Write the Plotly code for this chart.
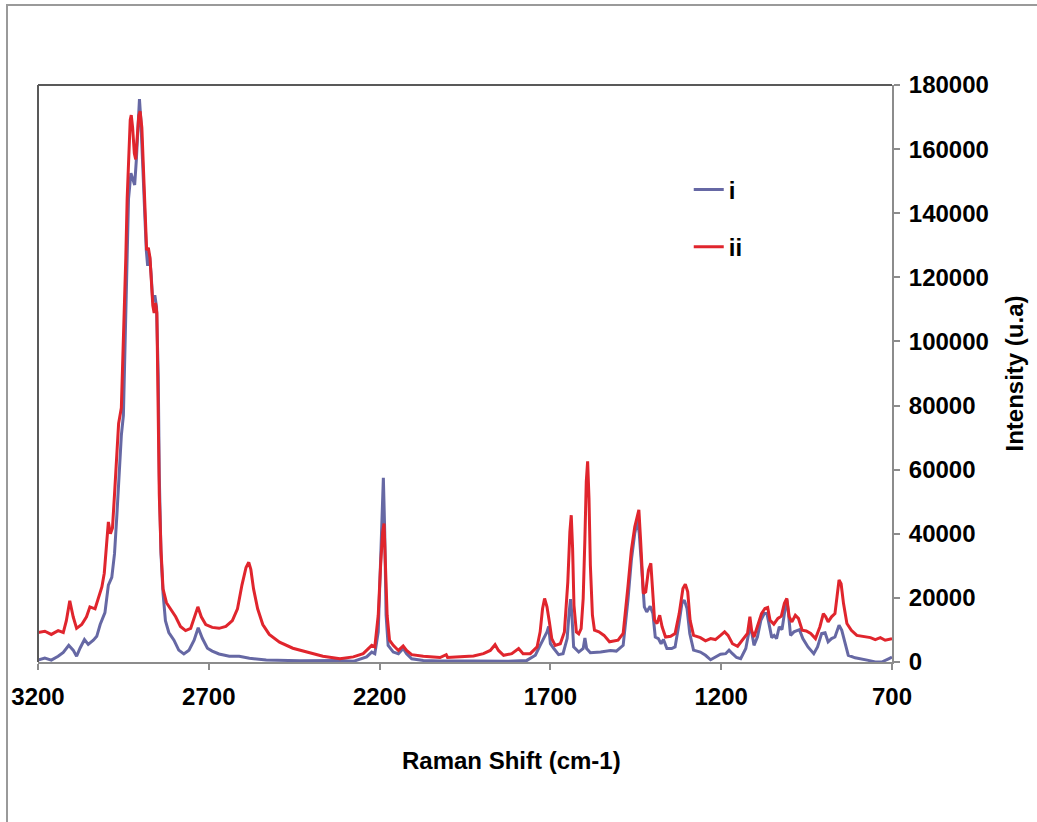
import plotly.graph_objects as go

# Raman spectrum (i)
i_shift = [3200, 3180, 3161, 3141, 3126, 3110, 3097, 3087, 3077, 3064, 3053, 3038, 3028, 3018,
           3004, 2994, 2984, 2976, 2969, 2962, 2956, 2950, 2945, 2940, 2935, 2928, 2922, 2917,
           2912, 2907, 2903, 2899, 2894, 2888, 2883, 2879, 2874, 2869, 2864, 2858, 2853, 2848,
           2845, 2840, 2834, 2827, 2817, 2802, 2788, 2773, 2758, 2743, 2731, 2719, 2704, 2690,
           2670, 2640, 2611, 2581, 2532, 2434, 2336, 2316, 2277, 2238, 2223, 2214, 2204, 2197,
           2192, 2189, 2185, 2181, 2175, 2160, 2145, 2131, 2121, 2106, 2072, 2023, 1925, 1827,
           1769, 1744, 1730, 1718, 1710, 1705, 1700, 1690, 1676, 1663, 1651, 1645, 1641, 1637,
           1632, 1617, 1604, 1599, 1594, 1583, 1553, 1524, 1507, 1487, 1473, 1463, 1453, 1445,
           1440, 1433, 1425, 1418, 1408, 1400, 1393, 1384, 1376, 1369, 1359, 1345, 1335, 1325,
           1315, 1308, 1300, 1292, 1281, 1261, 1246, 1231, 1217, 1202, 1187, 1177, 1167, 1155,
           1143, 1128, 1116, 1110, 1104, 1094, 1084, 1074, 1066, 1059, 1052, 1045, 1038, 1030,
           1022, 1015, 1008, 1003, 997, 987, 971, 961, 946, 929, 918, 906, 896, 887, 877, 867,
           855, 847, 839, 828, 808, 789, 769, 749, 730, 710, 700]
i_intensity = [600, 1200, 600, 1800, 3000, 5200, 3700, 1800, 4300, 7000, 5500, 6800, 8000, 11700,
               15400, 24000, 26400, 33800, 46000, 58400, 70700, 76900, 101500, 126000, 144500,
               152500, 150700, 148800, 156800, 169100, 175600, 169100, 156800, 138400, 128500,
               123600, 127300, 121200, 112500, 114400, 110700, 89200, 58400, 33800, 21500, 12900,
               9200, 6800, 3700, 2500, 3700, 6800, 10700, 7400, 4300, 3400, 2500, 1800, 1800,
               1200, 600, 400, 600, 500, 200, 1600, 3100, 2600, 9400, 30200, 51000, 57500, 40600,
               14600, 5200, 3100, 2600, 4200, 2600, 1000, 500, 300, 300, 200, 500, 2100, 5200,
               7500, 9400, 11100, 5700, 4200, 2300, 2600, 7300, 15600, 19600, 14600, 4700, 3100,
               4200, 7500, 4200, 2900, 3100, 3600, 3400, 5200, 19300, 31800, 40200, 44300, 40200,
               29700, 17200, 15600, 17400, 15100, 7800, 7300, 5700, 7000, 4200, 4200, 4700, 11000,
               18300, 19300, 16700, 8900, 3700, 3100, 2100, 700, 1600, 2400, 2600, 3700, 2600,
               1400, 1000, 4200, 11000, 8900, 5200, 7800, 13000, 15100, 15100, 11000, 7600, 8300,
               7300, 11000, 10100, 15100, 19500, 15100, 8300, 9400, 10100, 7300, 4700, 2600, 4700,
               8900, 9100, 6300, 7300, 7800, 11500, 9900, 6800, 2100, 1300, 1000, 500, 0, 0, 1000,
               1500]

# Raman spectrum (ii)
ii_shift = [3200, 3180, 3161, 3141, 3126, 3117, 3107, 3097, 3087, 3072, 3058, 3048, 3033, 3023,
            3013, 3006, 2999, 2994, 2988, 2982, 2976, 2969, 2964, 2956, 2953, 2947, 2943, 2939,
            2934, 2930, 2927, 2923, 2918, 2914, 2910, 2905, 2901, 2896, 2891, 2886, 2882, 2877,
            2872, 2868, 2864, 2860, 2856, 2852, 2848, 2845, 2840, 2834, 2824, 2812, 2797, 2783,
            2768, 2753, 2741, 2732, 2722, 2709, 2690, 2670, 2650, 2631, 2616, 2603, 2591, 2583,
            2577, 2569, 2557, 2542, 2523, 2493, 2454, 2415, 2366, 2316, 2277, 2248, 2233, 2223,
            2214, 2204, 2197, 2191, 2187, 2183, 2178, 2171, 2160, 2145, 2131, 2121, 2106, 2072,
            2023, 2005, 2001, 1964, 1925, 1896, 1876, 1862, 1852, 1837, 1813, 1793, 1780, 1759,
            1739, 1730, 1723, 1717, 1710, 1703, 1696, 1686, 1671, 1659, 1649, 1643, 1639, 1635,
            1631, 1624, 1617, 1610, 1604, 1599, 1595, 1591, 1587, 1583, 1577, 1571, 1558, 1543,
            1527, 1502, 1487, 1473, 1463, 1453, 1445, 1441, 1436, 1428, 1421, 1413, 1406, 1401,
            1395, 1388, 1380, 1373, 1363, 1348, 1335, 1323, 1312, 1305, 1298, 1291, 1281, 1261,
            1246, 1231, 1217, 1202, 1190, 1180, 1167, 1152, 1138, 1123, 1116, 1111, 1104, 1092,
            1082, 1072, 1064, 1057, 1046, 1034, 1024, 1015, 1008, 1001, 993, 983, 974, 963, 951,
            938, 924, 911, 901, 894, 887, 877, 867, 861, 855, 849, 842, 832, 819, 803, 783, 763,
            749, 734, 720, 700]
ii_intensity = [9200, 9600, 8600, 9800, 9200, 12900, 19100, 14100, 10500, 11700, 14100, 17200,
                16600, 20300, 23400, 27700, 36300, 43700, 40000, 41800, 52300, 64600, 74400,
                79300, 89200, 107600, 126000, 144500, 156800, 169100, 170600, 166700, 158700,
                156800, 163000, 170400, 171800, 166700, 153100, 138400, 128500, 129200, 126000,
                118700, 111300, 108900, 112000, 108900, 83000, 52300, 35100, 22800, 18500, 16600,
                14100, 11100, 9800, 10500, 14100, 17200, 14100, 11700, 10800, 10500, 11100, 12900,
                16600, 24000, 29500, 31100, 28900, 22800, 16600, 11700, 8600, 6200, 4300, 3100,
                1800, 1000, 1600, 2600, 4200, 5200, 4700, 14600, 30200, 40600, 43200, 32200, 14600,
                6800, 5200, 3600, 5000, 3600, 2300, 1800, 1400, 2300, 1400, 1600, 1900, 2600, 3600,
                5400, 3600, 2100, 2600, 4200, 2600, 2600, 4700, 9400, 16600, 19800, 17200, 12500,
                7300, 5200, 5700, 9400, 25000, 40600, 45800, 35400, 17700, 9400, 8800, 10400, 19800,
                38500, 56200, 62600, 51000, 30200, 14600, 9900, 9400, 8300, 6300, 6800, 8900, 23500,
                34900, 42200, 45900, 47500, 38100, 21400, 21900, 28700, 30800, 23500, 13000, 12000,
                14600, 11000, 7800, 8000, 8900, 15100, 22900, 24300, 21900, 13000, 8300, 7600,
                6600, 7300, 7000, 8300, 9400, 8300, 5700, 4900, 6800, 8900, 14100, 9900, 7800,
                11500, 15100, 16700, 17000, 13000, 11800, 13600, 14300, 18300, 19800, 14100,
                12500, 14600, 13600, 9900, 9700, 8900, 7300, 11000, 15100, 14100, 12500, 14100,
                15100, 20300, 25600, 24400, 18300, 12000, 9900, 8300, 8000, 7600, 7000, 7600,
                6800, 7300]

x_ticks = [3200, 2700, 2200, 1700, 1200, 700]
y_ticks = [0, 20000, 40000, 60000, 80000, 100000, 120000, 140000, 160000, 180000]

FONT = "Arial, 'Liberation Sans', sans-serif"
BLUE = "#6668a4"
RED = "#e0252d"
AXIS_GREY = "#8c8c8c"
bold24 = dict(family=FONT, size=24, color="black", weight="bold")

fig = go.Figure()
fig.add_trace(go.Scatter(x=i_shift, y=i_intensity, mode="lines", name="i",
                         legendgroup="i", line=dict(color=BLUE, width=3)))
fig.add_trace(go.Scatter(x=ii_shift, y=ii_intensity, mode="lines", name="ii",
                         legendgroup="ii", line=dict(color=RED, width=3)))

fig.update_layout(
    width=1037, height=822,
    margin=dict(l=38, r=145, t=85, b=160, autoexpand=False),
    paper_bgcolor="white", plot_bgcolor="white",
    font=bold24,
    showlegend=True,
    legend=dict(x=0.762, y=0.857, xanchor="left", yanchor="top", font=bold24,
                bgcolor="rgba(0,0,0,0)", tracegroupgap=23, itemwidth=30),
    xaxis=dict(range=[3200, 700], tickvals=x_ticks, tickformat="d",
               showgrid=False, zeroline=False, showline=True, linecolor=AXIS_GREY,
               linewidth=2, ticks="outside", ticklen=6, tickcolor=AXIS_GREY, tickwidth=1.5,
               ticklabelstandoff=6, tickfont=bold24),
    yaxis=dict(range=[0, 180000], tickvals=y_ticks, tickformat="d", side="right",
               showgrid=False, zeroline=False, showline=True, linecolor=AXIS_GREY,
               linewidth=2, ticks="outside", ticklen=6, tickcolor=AXIS_GREY, tickwidth=1.5,
               ticklabelstandoff=4, tickfont=bold24,
               title=dict(text="Intensity (u.a)", standoff=18, font=bold24)),
    annotations=[
        # x-axis title, centred on the chart area
        dict(text="Raman Shift (cm-1)", xref="paper", yref="paper", x=0.555, y=-0.17,
             xanchor="center", yanchor="middle", showarrow=False, font=bold24),
    ],
    shapes=[
        # plot-area frame, top and left edges
        dict(type="line", xref="paper", yref="paper", x0=0, x1=1, y0=1, y1=1,
             line=dict(color="#595959", width=2)),
        dict(type="line", xref="paper", yref="paper", x0=0, x1=0, y0=0, y1=1,
             line=dict(color="#595959", width=2)),
        # outer chart-area border
        dict(type="rect", xref="paper", yref="paper", x0=-0.0363, x1=1.25, y0=-0.35, y1=1.1386,
             line=dict(color="#9a9a9a", width=2), fillcolor="rgba(0,0,0,0)", layer="below"),
    ],
)

fig.write_html("out.html")
